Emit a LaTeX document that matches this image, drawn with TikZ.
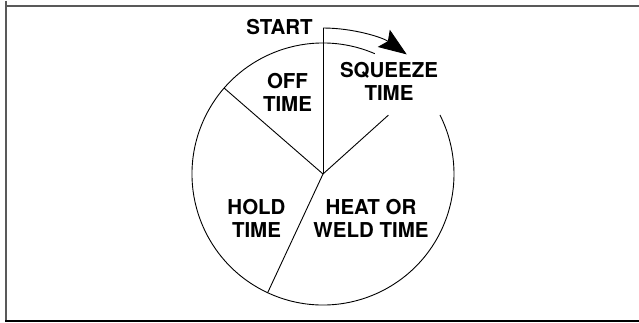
\documentclass[tikz,border=0pt]{standalone}
\usepackage{fontspec}
\setmainfont{TeX Gyre Heros}
\usetikzlibrary{arrows.meta,calc}
\begin{document}
\begin{tikzpicture}[x=1pt,y=1pt,
  lbl/.style={font=\bfseries\fontsize{20.5}{23}\selectfont, align=center, inner sep=0pt},
  ln/.style={line width=0.9pt}]
\useasboundingbox (0,0) rectangle (639,322);
% frame
\draw[line width=2pt, black!65] (6,321) -- (6,1.5);
\draw[line width=2pt, black!65] (5,316) -- (639,316);
\draw[line width=2pt, black] (5,1.5) -- (639,1.5);
% pie
\coordinate (c) at (323,148);
\coordinate (top) at (323,294);
\coordinate (off) at ($(c)+(139:131)$);
\coordinate (sq) at ($(c)+(42:88)$);
\coordinate (hold) at ($(c)+(245:131)$);
\coordinate (arcstart) at ($(c)+(66.7:131)$);
\draw[ln] (arcstart) arc[start angle=66.7, end angle=386.8, radius=131];
\draw[ln] (c) -- (top);
\draw[ln] (c) -- (off);
\draw[ln] (c) -- (sq);
\draw[ln] (c) -- (hold);
\draw[ln, -{Stealth[length=28pt,width=21pt,inset=5pt]}] (top) arc[start angle=90, end angle=55, radius=146];
% labels
\node[lbl] (start) at (279.5,295) {START};
\node[lbl] (offt) at (287.5,229.5) {OFF\\TIME};
\node[lbl] (sqt) at (389,240.5) {SQUEEZE\\TIME};
\node[lbl] (holdt) at (256.5,103.5) {HOLD\\TIME};
\node[lbl] (heatt) at (371,103.5) {HEAT OR\\WELD TIME};
\end{tikzpicture}
\end{document}
